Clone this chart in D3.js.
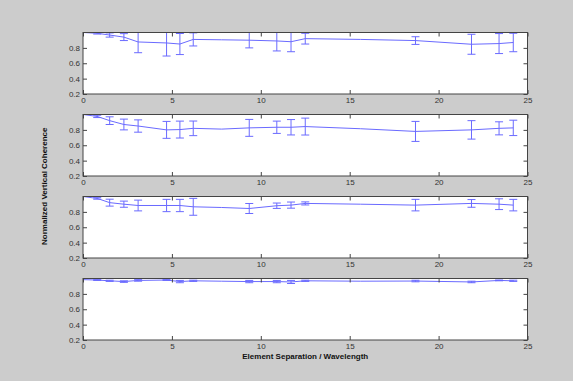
<!DOCTYPE html>
<html>
<head>
<meta charset="utf-8">
<script src="https://cdn.jsdelivr.net/npm/d3@7"></script>
<style>
  html, body { margin: 0; padding: 0; background: #cccccc; }
  svg { display: block; }
  .tick text { font-family: "Liberation Sans", Arial, sans-serif; font-size: 8px; fill: #333; }
</style>
</head>
<body>
<svg id="chart" width="573" height="381"></svg>
<script>
// Element separation (in wavelengths) of each measured pair
const separation = [0, 0.8, 1.5, 2.3, 3.1, 4.7, 5.45, 6.2, 7.8, 9.35, 10.9, 11.7, 12.5, 15.6, 18.7, 21.85, 23.4, 24.2];

// Mean normalized vertical coherence, one array per panel
const coherence1 = [1.0, 0.99, 0.967, 0.94, 0.877, 0.864, 0.85, 0.91, 0.905, 0.9, 0.89, 0.88, 0.92, 0.91, 0.895, 0.847, 0.856, 0.87];
const coherence2 = [1.0, 0.975, 0.92, 0.87, 0.85, 0.8, 0.804, 0.82, 0.81, 0.826, 0.834, 0.834, 0.843, 0.815, 0.78, 0.8, 0.82, 0.826];
const coherence3 = [1.0, 0.975, 0.92, 0.9, 0.883, 0.883, 0.883, 0.866, 0.857, 0.844, 0.88, 0.888, 0.91, 0.9, 0.888, 0.91, 0.9, 0.888];
const coherence4 = [0.985, 0.98, 0.97, 0.96, 0.975, 0.98, 0.96, 0.97, 0.965, 0.96, 0.96, 0.955, 0.97, 0.965, 0.967, 0.955, 0.975, 0.97];

// Standard deviation (half error-bar length) for each panel
const spread1 = [0, 0.01, 0.027, 0.045, 0.14, 0.17, 0.137, 0.085, 0, 0.1, 0.13, 0.13, 0.07, 0, 0.05, 0.13, 0.13, 0.12];
const spread2 = [0, 0.015, 0.05, 0.07, 0.08, 0.11, 0.11, 0.095, 0, 0.11, 0.08, 0.1, 0.11, 0, 0.13, 0.12, 0.085, 0.1];
const spread3 = [0, 0.01, 0.045, 0.04, 0.07, 0.08, 0.08, 0.11, 0, 0.065, 0.035, 0.04, 0.02, 0, 0.075, 0.05, 0.07, 0.075];
const spread4 = [0, 0.005, 0.008, 0.01, 0.01, 0.005, 0.015, 0.008, 0, 0.015, 0.015, 0.02, 0.008, 0, 0.01, 0.01, 0.005, 0.008];

const xTicks = [0, 5, 10, 15, 20, 25];
const yTicks = [0.2, 0.4, 0.6, 0.8];
const xLabel = "Element Separation / Wavelength";
const yLabel = "Normalized Vertical Coherence";

const panels = [
  { mean: coherence1, sd: spread1 },
  { mean: coherence2, sd: spread2 },
  { mean: coherence3, sd: spread3 },
  { mean: coherence4, sd: spread4 }
];

const svg = d3.select("#chart");
const left = 83, right = 527.5;
const panelTop = 32.5, panelStep = 82, panelH = 61.5;
const lineColor = "#6a6aff";
const axisColor = "#444";
const tickLen = 4;
const capHalf = 4;

const x = d3.scaleLinear().domain([0, 25]).range([left, right]);

panels.forEach((p, i) => {
  const top = panelTop + i * panelStep;
  const bottom = top + panelH;
  const y = d3.scaleLinear().domain([0.2, 1]).range([bottom, top]);
  const g = svg.append("g");

  // white plotting area
  g.append("rect")
    .attr("x", left).attr("y", top)
    .attr("width", right - left).attr("height", panelH)
    .attr("fill", "#fff");

  const clipId = "clip" + i;
  svg.append("clipPath").attr("id", clipId)
    .append("rect")
    .attr("x", left).attr("y", top)
    .attr("width", right - left).attr("height", panelH);

  const data = separation.map((s, k) => ({ s, m: p.mean[k], e: p.sd[k] }));
  const plot = g.append("g").attr("clip-path", `url(#${clipId})`);

  plot.append("path")
    .datum(data)
    .attr("fill", "none")
    .attr("stroke", lineColor)
    .attr("stroke-width", 1)
    .attr("d", d3.line().x(d => x(d.s)).y(d => y(d.m)));

  const bars = plot.selectAll("g.err")
    .data(data.filter(d => d.e > 0))
    .join("g").attr("class", "err")
    .attr("stroke", lineColor).attr("stroke-width", 1);
  bars.append("line")
    .attr("x1", d => x(d.s)).attr("x2", d => x(d.s))
    .attr("y1", d => y(d.m - d.e)).attr("y2", d => y(d.m + d.e));
  bars.append("line")
    .attr("x1", d => x(d.s) - capHalf).attr("x2", d => x(d.s) + capHalf)
    .attr("y1", d => y(d.m - d.e)).attr("y2", d => y(d.m - d.e));
  bars.append("line")
    .attr("x1", d => x(d.s) - capHalf).attr("x2", d => x(d.s) + capHalf)
    .attr("y1", d => y(d.m + d.e)).attr("y2", d => y(d.m + d.e));

  // axes with inward ticks on all four sides
  const axes = [
    { ax: d3.axisBottom(x).tickValues(xTicks).tickFormat(d3.format("d")), t: `translate(0,${bottom})`, labels: true },
    { ax: d3.axisTop(x).tickValues(xTicks), t: `translate(0,${top})`, labels: false },
    { ax: d3.axisLeft(y).tickValues(yTicks).tickFormat(d3.format(".1f")), t: `translate(${left},0)`, labels: true },
    { ax: d3.axisRight(y).tickValues(yTicks), t: `translate(${right},0)`, labels: false }
  ];
  axes.forEach(a => {
    const ag = g.append("g").attr("transform", a.t)
      .call(a.ax.tickSizeInner(-tickLen).tickSizeOuter(0).tickPadding(3));
    ag.select(".domain").remove();
    ag.selectAll(".tick line").attr("stroke", axisColor);
    if (!a.labels) ag.selectAll(".tick text").remove();
  });

  g.append("rect")
    .attr("x", left).attr("y", top)
    .attr("width", right - left).attr("height", panelH)
    .attr("fill", "none").attr("stroke", axisColor).attr("stroke-width", 1);
});

svg.append("text")
  .attr("x", (left + right) / 2).attr("y", 359)
  .attr("text-anchor", "middle")
  .attr("font-family", "Liberation Sans, Arial, sans-serif")
  .attr("font-size", 8).attr("font-weight", "bold").attr("fill", "#111")
  .text(xLabel);

svg.append("text")
  .attr("transform", `translate(47,${(panelTop + panelTop + 3 * panelStep + panelH) / 2}) rotate(-90)`)
  .attr("text-anchor", "middle")
  .attr("font-family", "Liberation Sans, Arial, sans-serif")
  .attr("font-size", 8).attr("font-weight", "bold").attr("fill", "#111")
  .text(yLabel);
</script>
</body>
</html>
